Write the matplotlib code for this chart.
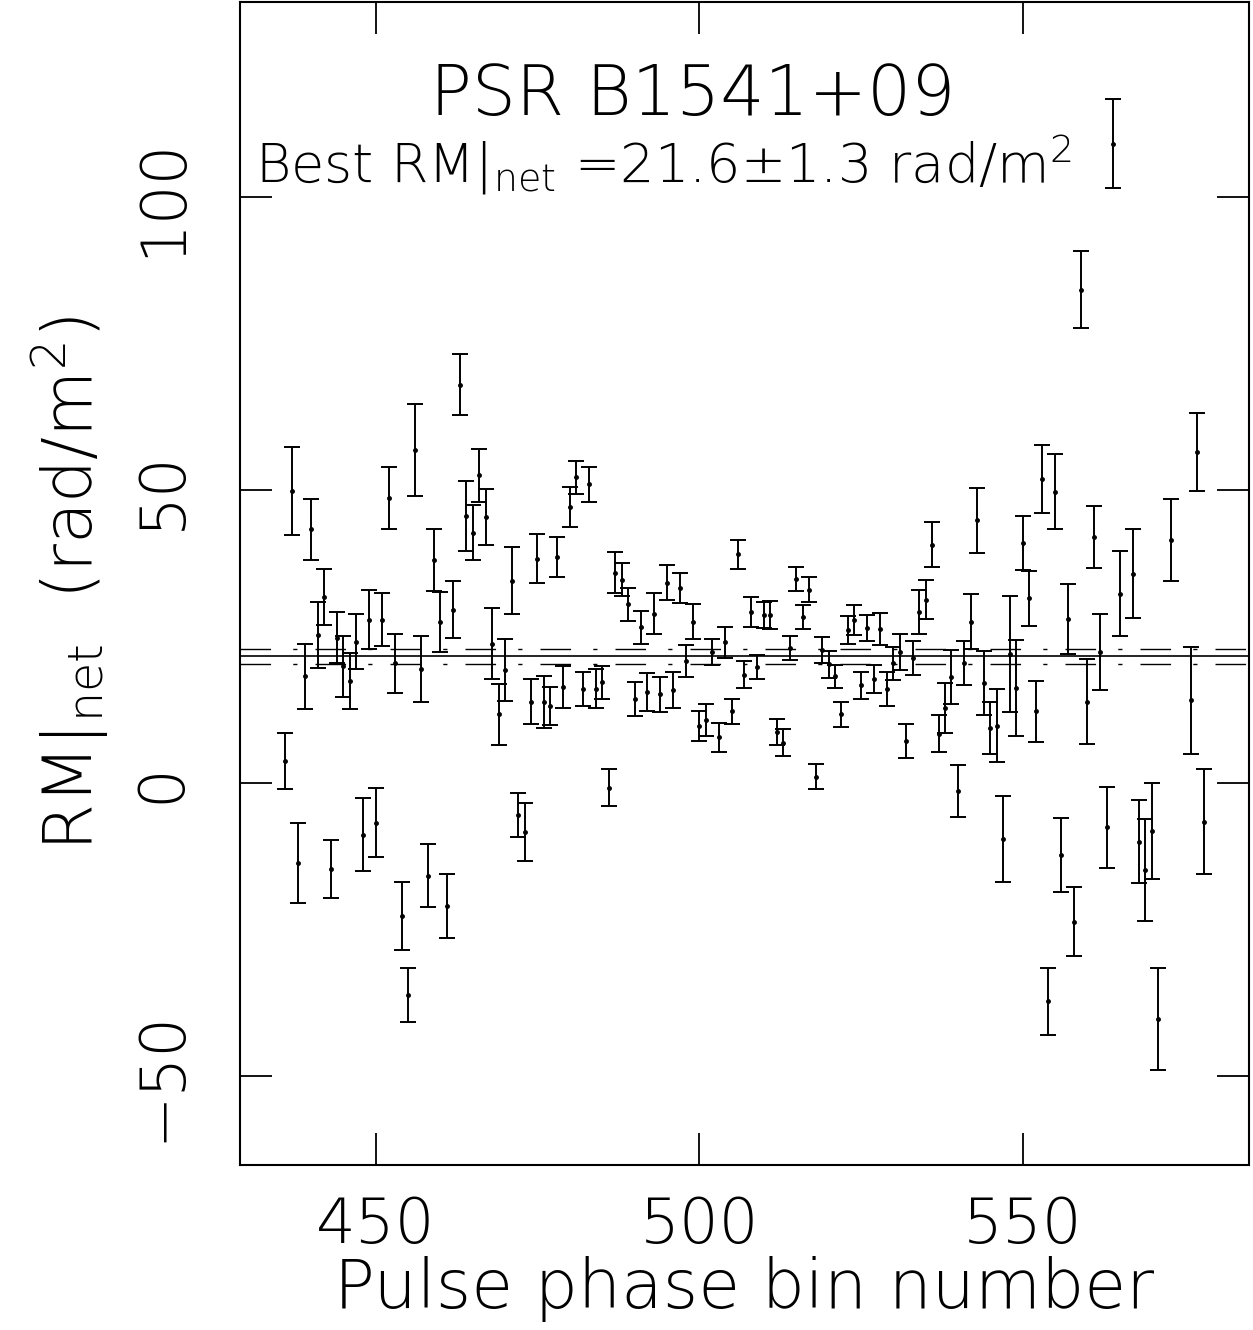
#!/usr/bin/env python3

import numpy as np
from matplotlib import pyplot as plt

# RM per pulse phase bin (rad/m^2) with 1-sigma errors
bins = [436, 437, 438, 439, 440, 441, 442, 443, 444, 445, 446, 447, 448, 449,
        450, 451, 452, 453, 454, 455, 456, 457, 458, 459, 460, 461, 462, 463,
        464, 465, 466, 467, 468, 469, 470, 471, 472, 473, 474, 475, 476, 477,
        478, 479, 480, 481, 482, 483, 484, 485, 486, 487, 488, 489, 490, 491,
        492, 493, 494, 495, 496, 497, 498, 499, 500, 501, 502, 503, 504, 505,
        506, 507, 508, 509, 510, 511, 512, 513, 514, 515, 516, 517, 518, 519,
        520, 521, 522, 523, 524, 525, 526, 527, 528, 529, 530, 531, 532, 533,
        534, 535, 536, 537, 538, 539, 540, 541, 542, 543, 544, 545, 546, 547,
        548, 549, 550, 551, 552, 553, 554, 555, 556, 557, 558, 559, 560, 561,
        562, 563, 564, 565, 567, 568, 569, 570, 571, 573, 576, 577, 578]
rm = [3.7, 49.9, -13.7, 18.2, 43.3, 25.3, 31.7, -14.7, 24.8, 19.9, 17.4, 24.1,
      -8.8, 27.9, -6.8, 27.9, 48.6, 20.4, -22.7, -36.2, 56.8, 19.4, -15.8, 38.1,
      27.5, -21.0, 29.6, 68.0, 45.6, 42.7, 52.5, 45.4, 23.8, 11.7, 19.3, 34.5,
      -5.5, -8.4, 13.9, 38.3, 13.8, 13.1, 38.6, 16.4, 47.1, 52.2, 16.0, 51.0,
      16.1, 17.2, -0.8, 35.9, 34.7, 30.5, 14.3, 26.6, 15.5, 28.9, 15.1, 34.2,
      15.9, 33.3, 20.8, 27.5, 9.7, 10.7, 22.4, 7.8, 24.0, 12.2, 39.0, 18.5,
      29.2, 19.8, 28.7, 28.7, 8.7, 6.9, 23.0, 34.8, 28.3, 33.0, 1.1, 22.7,
      20.3, 18.2, 11.7, 26.1, 27.8, 16.7, 26.4, 17.8, 26.3, 16.0, 20.4, 22.3,
      7.2, 21.3, 29.2, 31.3, 40.7, 8.4, 12.8, 18.1, -1.4, 20.5, 27.5, 44.8,
      17.1, 9.4, 9.8, -9.6, 22.0, 16.2, 41.0, 31.5, 12.2, 51.8, -37.3, 49.7,
      -12.3, 28.0, -23.7, 84.2, 13.9, 42.0, 22.4, -7.6, 109.1, 32.3, 35.7,
      -10.0, -14.8, -8.2, -40.3, 41.4, 14.1, 56.5, -6.6]
rm_err = [4.8, 7.5, 6.8, 5.5, 5.2, 5.6, 4.8, 5.0, 4.4, 5.2, 4.8, 4.7, 6.3, 5.1,
          5.9, 4.5, 5.3, 5.0, 5.8, 4.6, 7.9, 5.6, 5.4, 5.3, 5.1, 5.4, 4.9, 5.2,
          6.0, 4.7, 4.5, 4.7, 6.1, 5.2, 5.3, 5.7, 3.8, 5.0, 3.9, 4.2, 4.4, 3.2,
          3.4, 3.6, 3.4, 2.8, 2.9, 3.0, 3.3, 2.8, 3.1, 3.5, 2.8, 2.8, 2.9, 2.8,
          3.3, 3.5, 3.0, 3.0, 3.1, 2.6, 2.7, 3.0, 2.6, 2.7, 2.2, 2.5, 2.6, 2.2,
          2.5, 2.3, 2.5, 2.1, 2.2, 2.4, 2.2, 2.3, 2.0, 2.1, 2.1, 2.1, 2.1, 2.2,
          2.3, 2.0, 2.1, 2.4, 2.5, 2.3, 2.2, 2.4, 2.7, 2.9, 2.8, 3.1, 2.9, 2.9,
          3.7, 3.3, 3.8, 3.2, 4.2, 4.6, 4.4, 3.8, 4.7, 5.6, 5.5, 4.5, 6.2, 7.3,
          9.9, 8.2, 4.6, 4.7, 5.2, 5.8, 5.7, 6.4, 6.3, 6.0, 5.9, 6.6, 7.3, 5.3,
          6.5, 6.9, 7.6, 7.3, 7.6, 7.1, 8.7, 8.2, 8.7, 7.0, 9.1, 6.7, 9.0]

rm_best = 21.6
rm_best_err = 1.3

plt.rcParams['font.family'] = ['DejaVu Sans']
plt.rcParams['font.weight'] = 'light'
plt.rcParams['axes.labelweight'] = 'light'
plt.rcParams['mathtext.fontset'] = 'custom'
plt.rcParams['mathtext.rm'] = 'DejaVu Sans:light'
plt.rcParams['mathtext.it'] = 'DejaVu Sans:light'

fig = plt.figure(figsize=(12.53, 13.3), dpi=100)
ax = fig.add_axes([0.1915, 0.1241, 0.8053, 0.8744])

ax.errorbar(bins, rm, yerr=rm_err, fmt='o', color='black', markersize=2.5,
            elinewidth=1.4, capsize=6, capthick=1.4)

# best fit and its +/- 1 sigma band
ax.axhline(rm_best, color='black', lw=1.2)
ax.axhline(rm_best + rm_best_err, color='black', lw=1.0,
           dashes=(22, 16, 3, 13))
ax.axhline(rm_best - rm_best_err, color='black', lw=1.0,
           dashes=(22, 16, 3, 13))

ax.set_xlim(429, 585)
ax.set_ylim(-65.2, 133.3)
ax.set_xticks([450, 500, 550])
ax.set_yticks([-50, 0, 50, 100])
ax.tick_params(direction='in', length=23, width=1.3, top=True, right=True,
               labelsize=45)
ax.tick_params(axis='x', pad=22)
ax.tick_params(axis='y', labelrotation=90, pad=34)
for lab in ax.get_yticklabels():
    lab.set_va('center')
for s in ax.spines.values():
    s.set_linewidth(1.5)

ax.set_xlabel('Pulse phase bin number', fontsize=49, labelpad=0)
ax.set_ylabel(r'RM$|_{\mathrm{net}}$  (rad/m$^2$)', fontsize=49, labelpad=16)

ax.text(0.449, 0.903, 'PSR B1541+09', transform=ax.transAxes,
        ha='center', va='baseline', fontsize=50)
ax.text(0.015, 0.845,
        r'Best RM$|_{\mathrm{net}}$ =%.1f$\pm$%.1f rad/m$^2$' % (rm_best, rm_best_err),
        transform=ax.transAxes, ha='left', va='baseline', fontsize=39)

fig.savefig('out.png', dpi=100)
